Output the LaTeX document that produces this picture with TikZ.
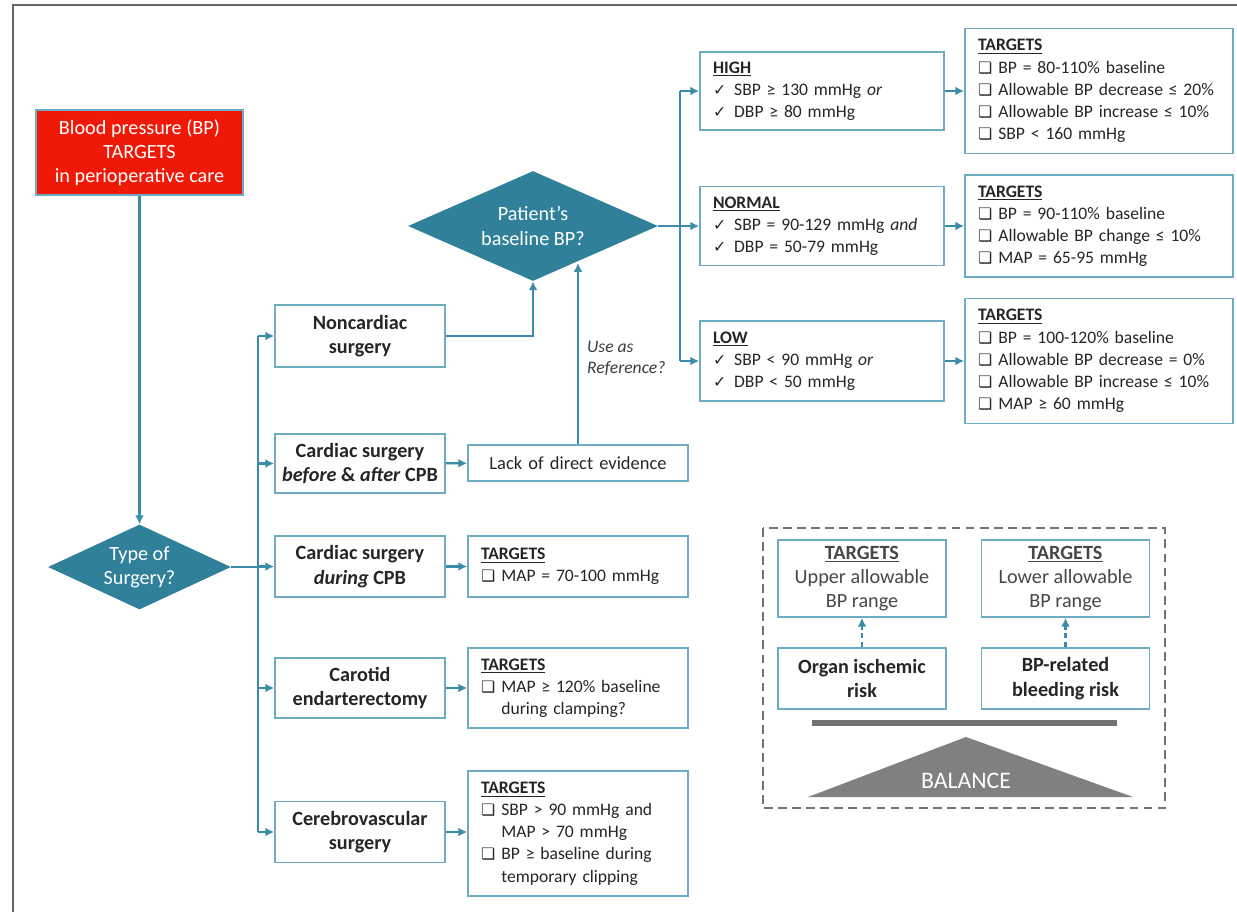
\documentclass[tikz,border=0pt]{standalone}
\usepackage{fontspec}
\setmainfont{Carlito}
\newfontfamily\symfont{DejaVu Sans}
\usetikzlibrary{shapes.geometric,arrows.meta}

\definecolor{bpred}{RGB}{240,24,6}
\definecolor{bpteal}{RGB}{48,128,153}
\definecolor{bpline}{RGB}{58,140,168}
\definecolor{bpbord}{RGB}{110,172,196}
\definecolor{bptext}{RGB}{38,38,38}

\newcommand{\bpfont}{\fontsize{10}{12.6}\selectfont}
\newcommand{\bigfont}{\fontsize{11.5}{13.8}\selectfont}
\newcommand{\chkmark}{{\symfont\small ✓}\hspace{0.45em}}
\newcommand{\sqbox}{{\symfont\small ❏}\hspace{0.35em}}
\newcommand{\sqind}{\phantom{\sqbox}}
\newcommand{\tgt}{\underline{\textbf{TARGETS}}}

\begin{document}
\begin{tikzpicture}[x=0.02cm,y=-0.02cm]
    \tikzstyle{box}=[draw=bpbord, line width=1pt, fill=white, text=bptext, align=center, font=\bigfont\bfseries, minimum width=3.4cm]
    \tikzstyle{tbox}=[draw=bpbord, line width=1pt, fill=white, text=bptext, align=left, font=\bpfont, inner xsep=0.26cm, inner ysep=0.08cm]
    \tikzstyle{rbox}=[draw=bpbord, line width=1pt, fill=white, text=bptext!85, align=center, font=\bigfont, minimum width=3.36cm]
    \tikzstyle{dec}=[diamond, fill=bpteal, text=white, align=center, font=\bigfont, inner sep=0pt]
    \tikzstyle{arr}=[draw=bpline, line width=1.3pt, -{Latex[length=5pt,width=5pt]}]
    \tikzstyle{ln}=[draw=bpline, line width=1.3pt]

    \useasboundingbox (0,0) rectangle (1237,912);
    \draw[black!60, line width=1.2pt] (13,912) -- (13,5) -- (1237,5);

    \node[fill=bpred, draw=bpbord, line width=0.6pt, text=white, align=center, font=\bigfont,
          minimum width=4.14cm, minimum height=1.7cm] (title) at (139.5,152.5)
          {Blood pressure (BP)\\TARGETS\\in perioperative care};
    \node[dec, shape aspect=2.15, minimum width=3.66cm, minimum height=1.7cm] (tos) at (139.5,567) {Type of\\Surgery?};
    \node[dec, shape aspect=2.27, minimum width=5cm, minimum height=2.2cm] (pbl) at (533,226) {Patient’s\\baseline BP?};

    \node[box, minimum height=1.24cm] (noncard) at (360,336) {Noncardiac\\surgery};
    \node[box, minimum height=1.18cm] (before) at (360,463.5) {Cardiac surgery\\\textit{before} \& \textit{after} CPB};
    \node[box, minimum height=1.22cm] (during) at (360,566.5) {Cardiac surgery\\\textit{during} CPB};
    \node[box, minimum height=1.2cm] (carotid) at (360,688) {Carotid\\endarterectomy};
    \node[box, minimum height=1.22cm] (cerebro) at (360,832) {Cerebrovascular\\surgery};

    \node[tbox, align=center, font=\fontsize{10.5}{12.6}\selectfont, text width=3.88cm, minimum height=0.72cm] (lack) at (578,463) {Lack of direct evidence};
    \node[tbox, text width=3.88cm, minimum height=1.22cm] (duringt) at (578,566.5)
        {\tgt\\\sqbox MAP = 70-100 mmHg};
    \node[tbox, text width=3.88cm, minimum height=1.6cm] (carotidt) at (578,688)
        {\tgt\\\sqbox MAP ≥ 120\% baseline\\\sqind during clamping?};
    \node[tbox, text width=3.88cm, minimum height=2.5cm] (cerebrot) at (578,833.5)
        {\tgt\\\sqbox SBP > 90 mmHg and\\\sqind MAP > 70 mmHg\\\sqbox BP ≥ baseline during\\\sqind temporary clipping};

    \node[tbox, text width=4.36cm, minimum height=1.56cm] (high) at (822,91)
        {\underline{\textbf{HIGH}}\\\chkmark SBP ≥ 130 mmHg \textit{or}\\\chkmark DBP ≥ 80 mmHg};
    \node[tbox, text width=4.36cm, minimum height=1.58cm] (normal) at (822,226)
        {\underline{\textbf{NORMAL}}\\\chkmark SBP = 90-129 mmHg \textit{and}\\\chkmark DBP = 50-79 mmHg};
    \node[tbox, text width=4.36cm, minimum height=1.6cm] (low) at (822,361)
        {\underline{\textbf{LOW}}\\\chkmark SBP < 90 mmHg \textit{or}\\\chkmark DBP < 50 mmHg};

    \node[tbox, text width=4.84cm, minimum height=2.5cm] (hight) at (1099,91)
        {\tgt\\\sqbox BP = 80-110\% baseline\\\sqbox Allowable BP decrease ≤ 20\%\\\sqbox Allowable BP increase ≤ 10\%\\\sqbox SBP < 160 mmHg};
    \node[tbox, text width=4.84cm, minimum height=2.04cm] (normalt) at (1099,226)
        {\tgt\\\sqbox BP = 90-110\% baseline\\\sqbox Allowable BP change ≤ 10\%\\\sqbox MAP = 65-95 mmHg};
    \node[tbox, text width=4.84cm, minimum height=2.5cm] (lowt) at (1099,361)
        {\tgt\\\sqbox BP = 100-120\% baseline\\\sqbox Allowable BP decrease = 0\%\\\sqbox Allowable BP increase ≤ 10\%\\\sqbox MAP ≥ 60 mmHg};

    \draw[arr] (title) -- (tos);
    \coordinate (ltop) at (258,336);
    \coordinate (lbot) at (258,832);
    \draw[ln] (ltop) -- (lbot);
    \draw[ln] (tos.east) -- (tos.east -| ltop);
    \foreach \n in {noncard,before,during,carotid,cerebro}
        \draw[arr] (ltop |- \n.west) -- (\n.west);
    \draw[arr] (before) -- (lack);
    \draw[arr] (during) -- (duringt);
    \draw[arr] (carotid) -- (carotidt);
    \draw[arr] (cerebro.east) -- (cerebro.east -| cerebrot.west);

    \draw[arr] (noncard.east) -| (pbl.south);
    \coordinate (refend) at (578,263);
    \draw[arr] (lack.north) -- (refend);
    \node[align=left, anchor=west, font=\fontsize{10}{12}\selectfont\itshape, text=bptext!90] (useref) at (581,358) {Use as\\Reference?};

    \coordinate (rtop) at (680,91);
    \draw[ln] (pbl.east) -- (pbl.east -| rtop);
    \draw[ln] (rtop) -- (rtop |- low);
    \foreach \n in {high,normal,low}
        \draw[arr] (rtop |- \n.west) -- (\n.west);
    \draw[arr] (high) -- (hight);
    \draw[arr] (normal) -- (normalt);
    \draw[arr] (low) -- (lowt);

    \draw[black!55, line width=1pt, dash pattern=on 5pt off 3pt] (763,528) rectangle (1165,808);
    \node[rbox, minimum height=1.46cm] (upper) at (862,578.5) {\textbf{\underline{TARGETS}}\\Upper allowable\\BP range};
    \node[rbox, minimum height=1.46cm] (lower) at (1065.5,578.5) {\textbf{\underline{TARGETS}}\\Lower allowable\\BP range};
    \node[rbox, font=\bigfont\bfseries, text=bptext, minimum height=1.22cm] (organ) at (862,678.5) {Organ ischemic\\risk};
    \node[rbox, font=\bigfont\bfseries, text=bptext, minimum height=1.22cm] (bleed) at (1065.5,678.5) {BP-related\\bleeding risk};
    \draw[arr, dash pattern=on 3pt off 2pt] (organ) -- (upper);
    \draw[arr, dash pattern=on 3pt off 2pt] (bleed) -- (lower);
    \draw[black!55, line width=3pt] (812,723) -- (1117,723);
    \fill[black!50] (808,797) -- (966,737) -- (1133,797) -- cycle;
    \node[text=white, font=\fontsize{13.5}{16}\selectfont] (bal) at (966,781) {BALANCE};
\end{tikzpicture}
\end{document}
